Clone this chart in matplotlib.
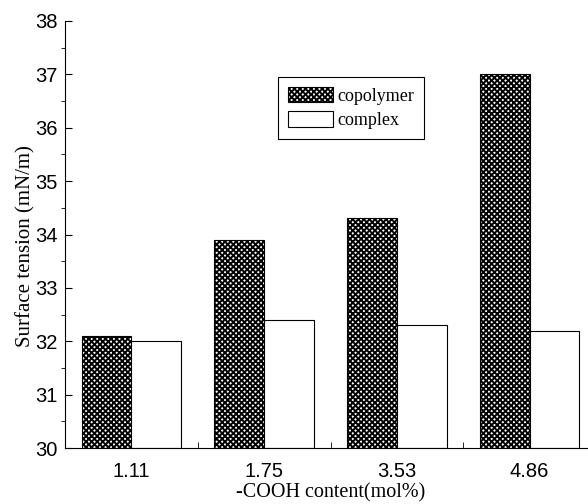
import matplotlib.pyplot as plt
import matplotlib.ticker as mticker
import numpy as np

plt.rcParams['hatch.linewidth'] = 1.4

cooh = ["1.11", "1.75", "3.53", "4.86"]
copolymer = [32.1, 33.9, 34.3, 37.0]
complex_ = [32.0, 32.4, 32.3, 32.2]


def main():
    fig = plt.figure(figsize=(5.88, 5.04), dpi=100)
    ax = fig.add_axes([65 / 588, 56 / 504, 531 / 588, 427 / 504])

    x = np.arange(len(cooh))
    w = 0.375
    ax.bar(x - w / 2, np.array(copolymer) - 30, w, bottom=30, color='white',
           edgecolor='black', hatch='xxxxxx', linewidth=0.8, label='copolymer')
    ax.bar(x + w / 2, np.array(complex_) - 30, w, bottom=30, color='white',
           edgecolor='black', linewidth=0.8, label='complex')

    ax.set_xlim(-0.5, 3.5)
    ax.set_ylim(30, 38)
    ax.set_xticks(x)
    ax.set_xticklabels(cooh, family='Liberation Sans', fontsize=14.5)
    ax.set_xticks([0.5, 1.5, 2.5], minor=True)
    ax.yaxis.set_minor_locator(mticker.MultipleLocator(0.5))
    for lab in ax.get_yticklabels():
        lab.set_family('Liberation Sans')
        lab.set_fontsize(14.5)
    ax.tick_params(axis='y', which='major', direction='in', length=5, pad=5)
    ax.tick_params(axis='y', which='minor', direction='out', length=3)
    ax.tick_params(axis='x', which='major', length=0, pad=10)
    ax.tick_params(axis='x', which='minor', direction='in', length=4)

    ax.spines['top'].set_visible(False)
    ax.spines['right'].set_visible(False)

    ax.set_xlabel('-COOH content(mol%)', family='Liberation Serif', fontsize=14.5)
    ax.xaxis.set_label_coords(0.5, -0.082)
    ax.set_ylabel('Surface tension (mN/m)', family='Liberation Serif', fontsize=15)
    ax.yaxis.set_label_coords(-0.056, 0.473)

    leg = ax.legend(loc='upper left', bbox_to_anchor=(0.401, 0.869),
                    prop={'family': 'Liberation Serif', 'size': 13}, fancybox=False,
                    edgecolor='black', framealpha=1, borderaxespad=0,
                    handlelength=2.5, handleheight=0.95, handletextpad=0.25,
                    labelspacing=0.35, borderpad=0.55)
    leg.get_frame().set_linewidth(0.8)

    fig.savefig('out.png', dpi=100)


main()
